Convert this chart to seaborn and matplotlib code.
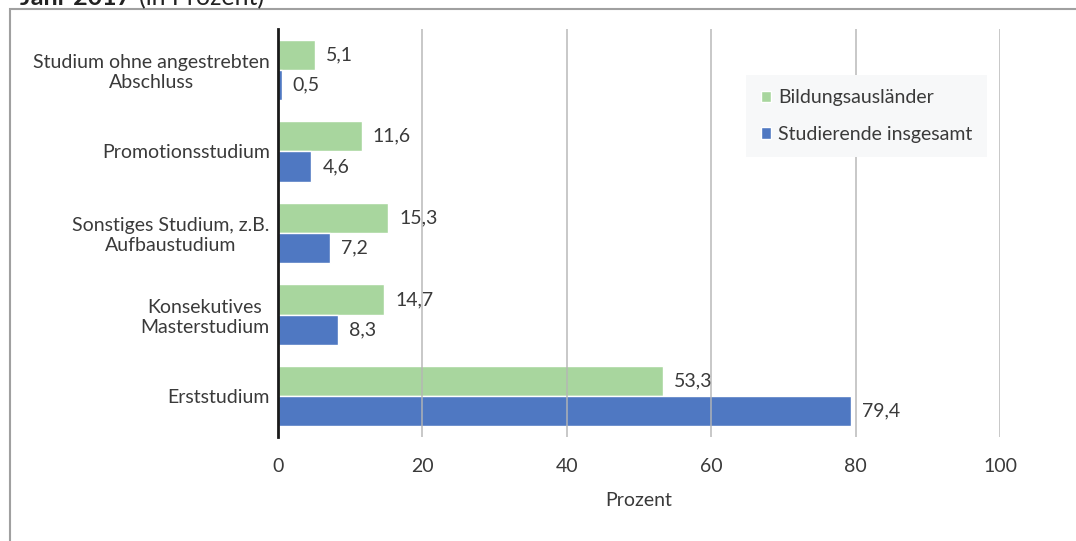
import pandas as pd
import matplotlib.pyplot as plt
from matplotlib.patches import Rectangle
import seaborn as sns

# Daten (Prozent)
CATEGORIES = [
    "Studium ohne angestrebten\nAbschluss",
    "Promotionsstudium",
    "Sonstiges Studium, z.B.\nAufbaustudium",
    "Konsekutives\nMasterstudium",
    "Erststudium",
]
BILDUNGSAUSLAENDER = [5.1, 11.6, 15.3, 14.7, 53.3]
INSGESAMT = [0.5, 4.6, 7.2, 8.3, 79.4]
SERIES = ["Bildungsausländer", "Studierende insgesamt"]
X_TICKS = [0, 20, 40, 60, 80, 100]

COLORS = {
    "Bildungsausländer": "#a8d69e",
    "Studierende insgesamt": "#4f78c2",
}
TEXT = "#3a3a3a"
FS = 14

sns.set_theme(style="white")
plt.rcParams["font.family"] = ["Lato", "DejaVu Sans"]

df = pd.DataFrame({
    "Kategorie": CATEGORIES * 2,
    "Wert": BILDUNGSAUSLAENDER + INSGESAMT,
    "Gruppe": [SERIES[0]] * len(CATEGORIES) + [SERIES[1]] * len(CATEGORIES),
})

fig = plt.figure(figsize=(10.76, 5.41), dpi=100)
ax = fig.add_axes([278 / 1076, 1 - 437 / 541, 722 / 1076, 408 / 541])

sns.barplot(data=df, y="Kategorie", x="Wert", hue="Gruppe", orient="h",
            palette=COLORS, width=0.74, gap=0, saturation=1, ax=ax,
            order=CATEGORIES, hue_order=SERIES, legend=True)

for container in ax.containers:
    labels = [f"{v:.1f}".replace(".", ",") for v in container.datavalues]
    ax.bar_label(container, labels=labels, padding=8, fontsize=FS, color=TEXT)

ax.set_xlim(0, 100)
ax.set_ylim(4.5, -0.5)
ax.set_xticks(X_TICKS)
ax.grid(axis="x", color="#b5b5b5", linewidth=1.3, alpha=0.8)
ax.set_axisbelow(False)

for side in ["top", "right", "bottom"]:
    ax.spines[side].set_visible(False)
ax.spines["left"].set_color("#1a1a1a")
ax.spines["left"].set_linewidth(2)
ax.spines["left"].set_zorder(5)

ax.tick_params(axis="x", length=0, pad=15, labelsize=FS, labelcolor=TEXT)
ax.tick_params(axis="y", length=0, pad=6, labelsize=FS, labelcolor=TEXT)
for lbl in ax.get_yticklabels():
    lbl.set_multialignment("center")

ax.set_ylabel("")
ax.set_xlabel("Prozent", fontsize=FS, color=TEXT, labelpad=12)

leg = ax.legend(loc="upper right", bbox_to_anchor=(0.982, 0.888), frameon=True,
                facecolor="#f7f8f9", edgecolor="none", fontsize=FS,
                handlelength=0.55, handleheight=0.55, handletextpad=0.35,
                labelspacing=1.0, borderpad=0.75, borderaxespad=0,
                fancybox=False, framealpha=1)
for t in leg.get_texts():
    t.set_color(TEXT)

# abgeschnittener Titel und Rahmen wie in der Vorlage
t1 = fig.text(20 / 1076, 1 - 5 / 541, "Jahr 2017", fontsize=18, fontweight="bold",
              color="#222222", va="baseline", ha="left")
fig.canvas.draw()
bb = t1.get_window_extent().transformed(fig.transFigure.inverted())
fig.text(bb.x1 + 8 / 1076, 1 - 5 / 541, "(in Prozent)", fontsize=18,
         color="#222222", va="baseline", ha="left")
fig.patches.append(Rectangle((10 / 1076, -0.1), 1.2, 1 - 9 / 541 + 0.1,
                             transform=fig.transFigure, fill=False,
                             edgecolor="#a0a0a0", linewidth=1.5))

fig.savefig("out.png", dpi=100, facecolor="white")
